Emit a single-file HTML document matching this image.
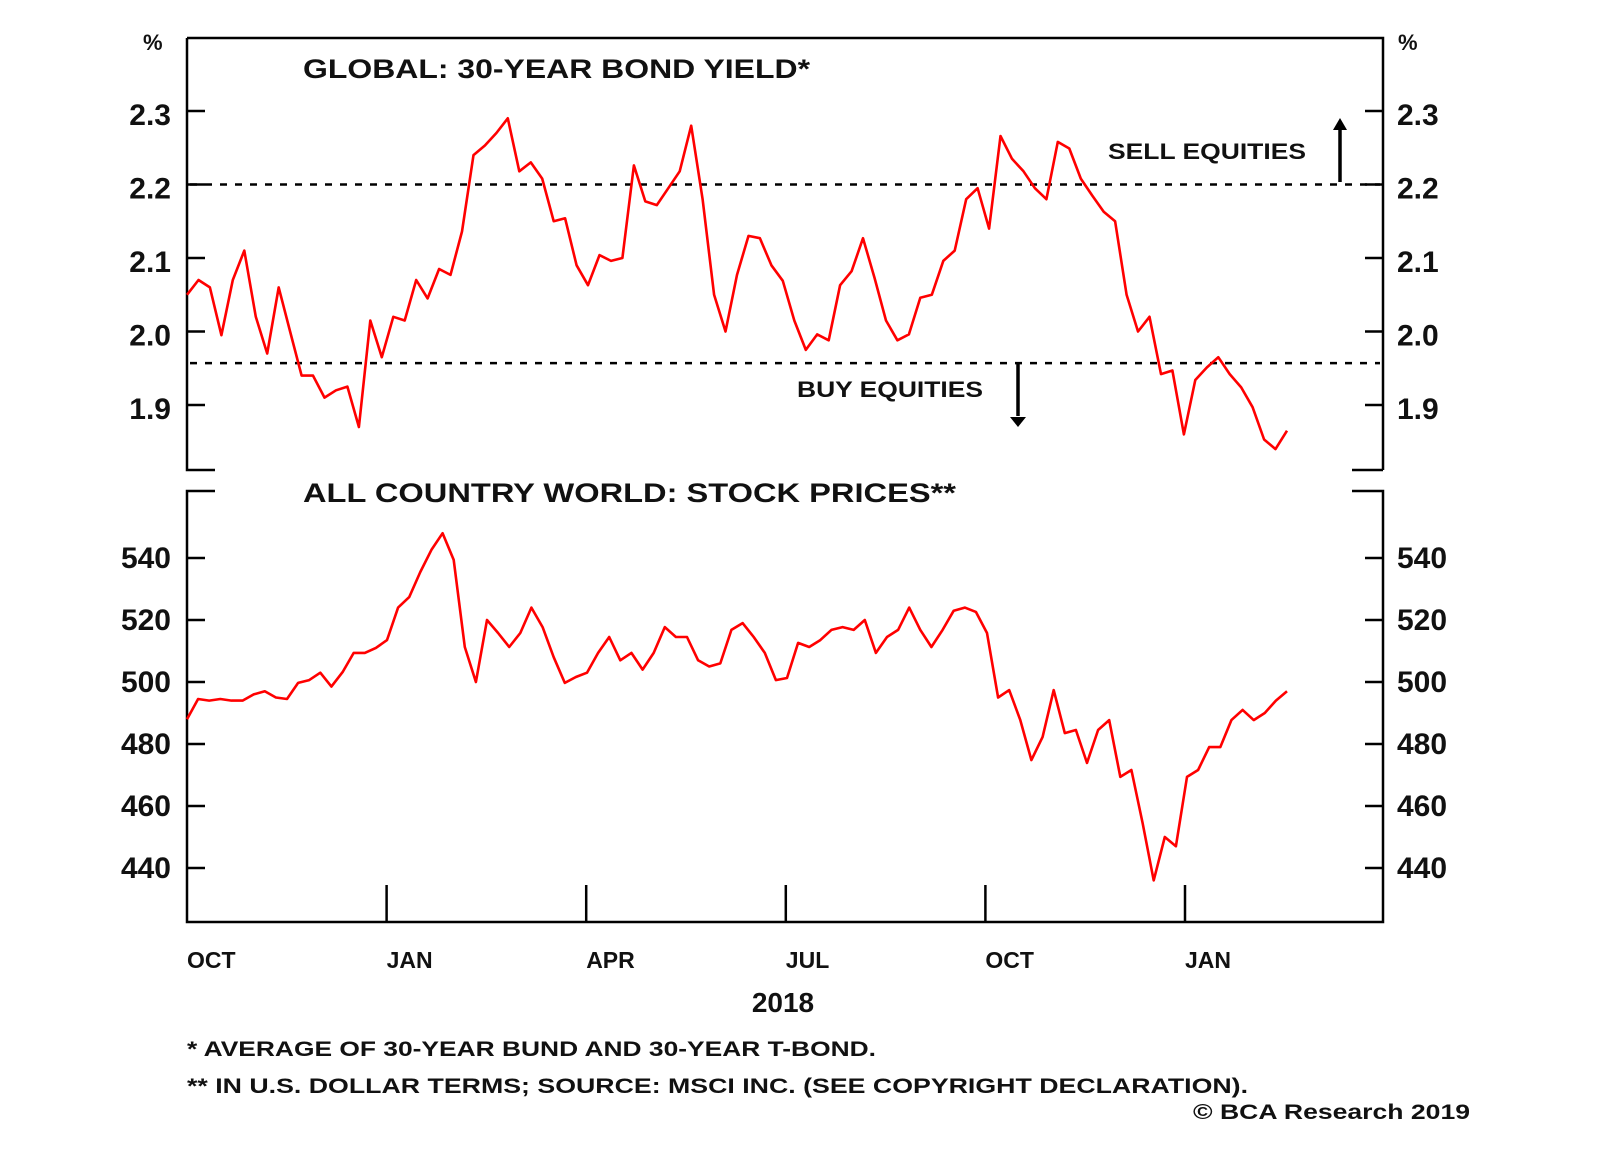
<!DOCTYPE html>
<html><head><meta charset="utf-8"><style>
html,body{margin:0;padding:0;background:#fff;}
svg{display:block;font-family:"Liberation Sans",Arial,sans-serif;}
.lbl{font-weight:bold;font-size:30px;fill:#111;}
.yr{font-weight:bold;font-size:28px;fill:#111;}
.ttl{font-weight:bold;font-size:27px;fill:#111;}
.ann{font-weight:bold;font-size:22px;fill:#111;}
.xl{font-weight:bold;font-size:23px;fill:#111;}
.fn{font-weight:bold;font-size:21px;fill:#111;}
</style></head><body>
<svg id="chart" width="1600" height="1152" viewBox="0 0 1600 1152">
<g id="frame" stroke="#000" stroke-width="2.5" fill="none">
  <path d="M187,38 H1383 V470 M1383,470 H1352 M187,38 V470 H215"/>
  <path d="M215,491 H187 V922 H1383 V491 H1352"/>
</g>
<g id="topPanel"></g>
<g id="botPanel"></g>
<g id="xaxis"></g>

<text x="143" y="50" class="ann">%</text>
<text x="1398" y="50" class="ann">%</text>
<text x="303" y="78" class="ttl" textLength="507" lengthAdjust="spacingAndGlyphs">GLOBAL: 30-YEAR BOND YIELD*</text>
<text x="303" y="502" class="ttl" textLength="653" lengthAdjust="spacingAndGlyphs">ALL COUNTRY WORLD: STOCK PRICES**</text>
<text x="1108" y="159" class="ann" textLength="198" lengthAdjust="spacingAndGlyphs">SELL EQUITIES</text>
<text x="797" y="397" class="ann" textLength="186" lengthAdjust="spacingAndGlyphs">BUY EQUITIES</text>
<g><line x1="1340" y1="182" x2="1340" y2="128" stroke="#000" stroke-width="3.5"/><path d="M1333,130 L1340,118 L1347,130 Z" fill="#000"/></g>
<g><line x1="1018" y1="364" x2="1018" y2="416" stroke="#000" stroke-width="3.5"/><path d="M1010,417 L1018,427 L1026,417 Z" fill="#000"/></g>
<text x="783" y="1012" class="yr" text-anchor="middle">2018</text>
<text x="187" y="1056" class="fn" textLength="689" lengthAdjust="spacingAndGlyphs">*  AVERAGE OF 30-YEAR BUND AND 30-YEAR T-BOND.</text>
<text x="187" y="1093" class="fn" textLength="1061" lengthAdjust="spacingAndGlyphs">** IN U.S. DOLLAR TERMS; SOURCE: MSCI INC. (SEE COPYRIGHT DECLARATION).</text>
<text x="1193" y="1119" class="fn" textLength="277" lengthAdjust="spacingAndGlyphs">© BCA Research 2019</text>
</svg>
<script>
const yieldValues=[2.05,2.07,2.06,1.995,2.07,2.11,2.02,1.97,2.06,2.0,1.94,1.94,1.91,1.92,1.925,1.87,2.015,1.965,2.02,2.015,2.07,2.045,2.085,2.077,2.136,2.24,2.253,2.27,2.29,2.218,2.23,2.208,2.15,2.154,2.09,2.063,2.104,2.096,2.1,2.226,2.177,2.172,2.195,2.218,2.28,2.18,2.05,2.0,2.077,2.13,2.127,2.09,2.069,2.015,1.975,1.996,1.988,2.063,2.082,2.127,2.073,2.015,1.988,1.996,2.046,2.05,2.096,2.11,2.18,2.195,2.14,2.266,2.235,2.218,2.195,2.18,2.258,2.249,2.208,2.185,2.163,2.15,2.05,2.0,2.02,1.942,1.947,1.86,1.934,1.951,1.965,1.942,1.924,1.897,1.853,1.84,1.865];
const stockValues=[488,494.5,494,494.5,494,494,496,497,495,494.5,499.7,500.6,503,498.5,503.2,509.4,509.4,511,513.5,524,527.4,535.5,542.6,548,539.4,511.3,500,520,515.8,511.3,515.8,524,517.7,508,499.7,501.6,503,509.4,514.5,507,509.4,504,509.4,517.7,514.5,514.5,507,505,506,516.8,519,514.5,509.4,500.6,501.3,512.6,511.3,513.5,516.8,517.7,516.8,520,509.4,514.5,516.8,524,516.8,511.3,516.8,523,524,522.6,515.8,495,497.4,487.7,474.8,482.3,497.4,483.5,484.5,473.9,484.5,487.7,469.4,471.6,454.5,436,450,447,469.4,471.6,479,479,487.7,491,487.7,490,494,497];
const yieldTicks=[2.3,2.2,2.1,2.0,1.9];
const stockTicks=[540,520,500,480,460,440];
const monthLabels=["OCT","JAN","APR","JUL","OCT","JAN"];
const thresholds=[2.2,1.957];

const NS="http://www.w3.org/2000/svg";
const X0=187,X1=1287;
function yTop(v){return 111+(2.3-v)*735;}
function yBot(v){return 558+(540-v)*3.1;}
function xIdx(i,n){return X0+(X1-X0)*i/(n-1);}
function mk(tag,attrs,parent){const e=document.createElementNS(NS,tag);for(const k in attrs)e.setAttribute(k,attrs[k]);parent.appendChild(e);return e;}
const topG=document.getElementById('topPanel'),botG=document.getElementById('botPanel'),xAxisG=document.getElementById('xaxis');

yieldTicks.forEach(v=>{
  const y=yTop(v);
  const t1=mk('line',{x1:187,x2:205,y1:y,y2:y,stroke:'#000','stroke-width':2.5},topG);
  
  
  const t2=mk('line',{x1:1365,x2:1383,y1:y,y2:y,stroke:'#000','stroke-width':2.5},topG);
  
  
  const l=mk('text',{x:171,y:y+14,'text-anchor':'end','class':'lbl'},topG);l.textContent=v.toFixed(1);
  
  
  const r=mk('text',{x:1397,y:y+14,'class':'lbl'},topG);r.textContent=v.toFixed(1);
  
  
});
thresholds.forEach(v=>{
  const d=mk('line',{x1:190,x2:1380,y1:yTop(v),y2:yTop(v),stroke:'#000','stroke-width':2.5,'stroke-dasharray':'7 8'},topG);
  
  
});
const yp=mk('polyline',{fill:'none',stroke:'#f00','stroke-width':2.6,'stroke-linejoin':'round',points:yieldValues.map((v,i)=>xIdx(i,yieldValues.length).toFixed(1)+','+yTop(v).toFixed(1)).join(' ')},topG);



stockTicks.forEach(v=>{
  const y=yBot(v);
  const t1=mk('line',{x1:187,x2:205,y1:y,y2:y,stroke:'#000','stroke-width':2.5},botG);
  
  
  const t2=mk('line',{x1:1365,x2:1383,y1:y,y2:y,stroke:'#000','stroke-width':2.5},botG);
  
  
  const l=mk('text',{x:171,y:y+10,'text-anchor':'end','class':'lbl'},botG);l.textContent=v;
  
  
  const r=mk('text',{x:1397,y:y+10,'class':'lbl'},botG);r.textContent=v;
  
  
});
const sp=mk('polyline',{fill:'none',stroke:'#f00','stroke-width':2.6,'stroke-linejoin':'round',points:stockValues.map((v,i)=>xIdx(i,stockValues.length).toFixed(1)+','+yBot(v).toFixed(1)).join(' ')},botG);



monthLabels.forEach((m,i)=>{
  const x=187+i*199.6;
  if(i>0){
    const t=mk('line',{x1:x,x2:x,y1:922,y2:885,stroke:'#000','stroke-width':2.5},xAxisG);
    
    
  }
  const l=mk('text',{x:x,y:968,'class':'xl'},xAxisG);l.textContent=m;
  
  
});
</script>
</body></html>
